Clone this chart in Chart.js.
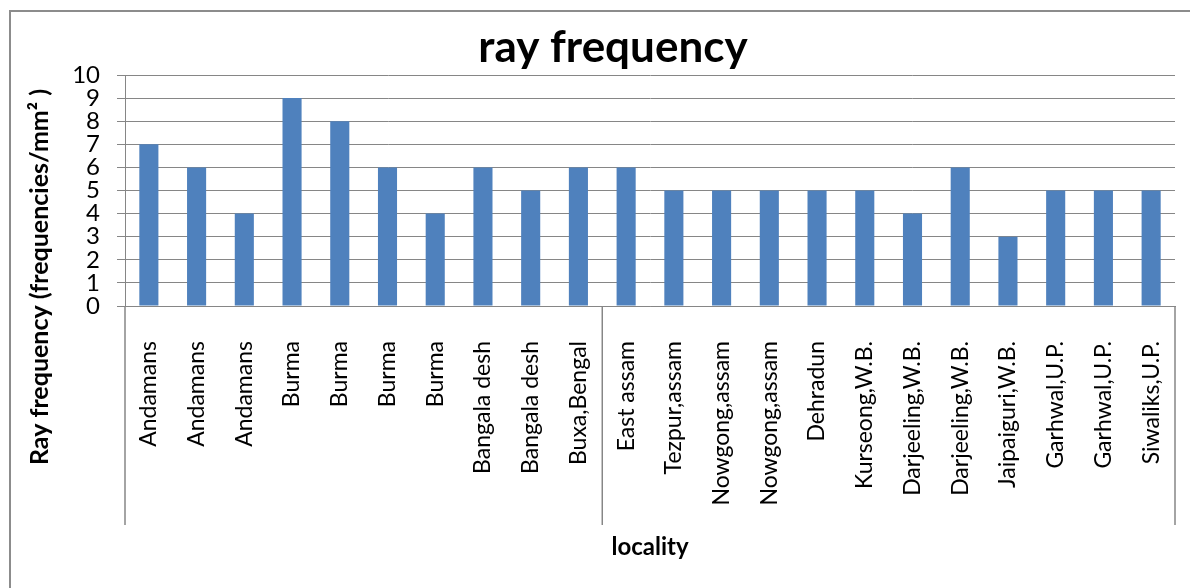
<!DOCTYPE html>
<html>
<head>
<meta charset="utf-8">
<script src="https://cdn.jsdelivr.net/npm/chart.js@4.4.1/dist/chart.umd.min.js"></script>
<style>
  html, body { margin: 0; padding: 0; background: #fff; }
  canvas { display: block; }
</style>
</head>
<body>
<canvas id="chart" width="1190" height="588"></canvas>
<script>
// Localities (one bar each) and their ray frequencies per mm²
const categories = [
  'Andamans', 'Andamans', 'Andamans',
  'Burma', 'Burma', 'Burma', 'Burma',
  'Bangala desh', 'Bangala desh', 'Buxa,Bengal',
  'East assam', 'Tezpur,assam', 'Nowgong,assam', 'Nowgong,assam',
  'Dehradun', 'Kurseong,W.B.', 'Darjeeling,W.B.', 'Darjeeling,W.B.',
  'Jaipaiguri,W.B.', 'Garhwal,U.P.', 'Garhwal,U.P.', 'Siwaliks,U.P.'
];
const rayFrequency = [7, 6, 4, 9, 8, 6, 4, 6, 5, 6, 6, 5, 5, 5, 5, 5, 4, 6, 3, 5, 5, 5];

// Outer category level: number of localities in each (unlabelled) group
const groupSizes = [10, 12];

// Value-axis ticks
const yTickValues = [0, 1, 2, 3, 4, 5, 6, 7, 8, 9, 10];

const FONT = 'Lato, "Open Sans", sans-serif';
const GRID = '#868686';
const BAR = '#4F81BD';

// White background and the chart frame (left and top edges)
const framePlugin = {
  id: 'frame',
  beforeDraw(chart) {
    const ctx = chart.ctx;
    ctx.save();
    ctx.fillStyle = '#fff';
    ctx.fillRect(0, 0, chart.width, chart.height);
    ctx.strokeStyle = '#8c8c8c';
    ctx.lineWidth = 2;
    ctx.beginPath();
    ctx.moveTo(10, chart.height + 5);
    ctx.lineTo(10, 11);
    ctx.lineTo(chart.width + 5, 11);
    ctx.stroke();
    ctx.restore();
  }
};

// Separator lines between the outer category groups, below the axis
const groupLinesPlugin = {
  id: 'groupLines',
  afterDraw(chart) {
    const x = chart.scales.x;
    const ctx = chart.ctx;
    const top = chart.chartArea.bottom;
    const bottom = top + 219;
    const bounds = [x.left];
    let idx = 0;
    groupSizes.forEach(n => {
      idx += n;
      if (idx >= categories.length) {
        bounds.push(x.right);
      } else {
        bounds.push((x.getPixelForValue(idx - 1) + x.getPixelForValue(idx)) / 2);
      }
    });
    ctx.save();
    ctx.strokeStyle = GRID;
    ctx.lineWidth = 1.5;
    bounds.forEach(px => {
      ctx.beginPath();
      ctx.moveTo(px, top);
      ctx.lineTo(px, bottom);
      ctx.stroke();
    });
    ctx.restore();
  }
};

// Chart title and vertical value-axis title
const titlesPlugin = {
  id: 'titles',
  afterDraw(chart) {
    const ctx = chart.ctx;
    ctx.save();
    ctx.fillStyle = '#000';
    ctx.font = 'bold 44px ' + FONT;
    ctx.textAlign = 'center';
    ctx.textBaseline = 'alphabetic';
    ctx.fillText('ray frequency', 613, 62);

    ctx.translate(40, 277);
    ctx.rotate(-Math.PI / 2);
    ctx.font = 'bold 25px ' + FONT;
    ctx.textBaseline = 'middle';
    ctx.fillText('Ray frequency (frequencies/mm\u00B2 )', 0, 0);
    ctx.restore();
  }
};

new Chart(document.getElementById('chart'), {
  type: 'bar',
  data: {
    labels: categories,
    datasets: [{
      label: 'ray frequency',
      data: rayFrequency,
      backgroundColor: BAR,
      borderWidth: 0,
      barPercentage: 0.4,
      categoryPercentage: 1.0
    }]
  },
  options: {
    responsive: false,
    animation: false,
    layout: { padding: { left: 0, right: 15, top: 75, bottom: 0 } },
    plugins: {
      legend: { display: false },
      tooltip: { enabled: false },
      title: { display: false }
    },
    scales: {
      x: {
        grid: { display: false },
        border: { display: true, color: GRID, width: 1 },
        ticks: {
          autoSkip: false,
          minRotation: 90,
          maxRotation: 90,
          padding: 27,
          color: '#000',
          font: { family: FONT, size: 23 }
        },
        title: {
          display: true,
          text: 'locality',
          color: '#000',
          font: { family: FONT, size: 24, weight: 'bold' },
          padding: { top: 0, bottom: 26 }
        },
        afterFit(scale) {
          scale.height = 282;
          scale.paddingLeft = 0;
          scale.paddingRight = 0;
        }
      },
      y: {
        min: 0,
        max: 10,
        afterBuildTicks(scale) { scale.ticks = yTickValues.map(v => ({ value: v })); },
        grid: { color: GRID, lineWidth: 1, tickLength: 8, drawTicks: true },
        border: { display: true, color: GRID, width: 1 },
        ticks: {
          autoSkip: false,
          padding: 17,
          color: '#000',
          font: { family: FONT, size: 24 }
        },
        afterFit(scale) { scale.width = 125; }
      }
    }
  },
  plugins: [framePlugin, groupLinesPlugin, titlesPlugin]
});
</script>
</body>
</html>
